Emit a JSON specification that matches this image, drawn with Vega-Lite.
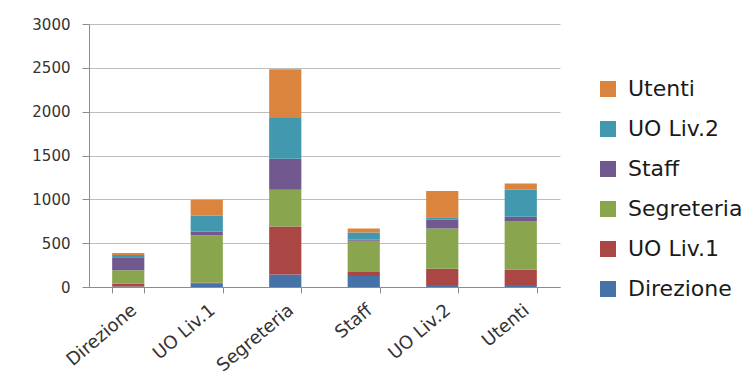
{
  "$schema": "https://vega.github.io/schema/vega-lite/v6.json",
  "width": 471,
  "height": 263,
  "autosize": {"type": "none"},
  "padding": {"left": 89, "top": 24, "right": 189, "bottom": 87},
  "background": "white",
  "config": {
    "font": "DejaVu Sans",
    "view": {"stroke": null},
    "axis": {"labelColor": "#333333", "domainColor": "#8c8c8c", "tickColor": "#8c8c8c"}
  },
  "data": {
    "values": [
      {"gruppo": "Direzione", "ruolo": "Direzione", "valore": 5},
      {"gruppo": "Direzione", "ruolo": "UO Liv.1", "valore": 35},
      {"gruppo": "Direzione", "ruolo": "Segreteria", "valore": 150},
      {"gruppo": "Direzione", "ruolo": "Staff", "valore": 148},
      {"gruppo": "Direzione", "ruolo": "UO Liv.2", "valore": 27},
      {"gruppo": "Direzione", "ruolo": "Utenti", "valore": 22},
      {"gruppo": "UO Liv.1", "ruolo": "Direzione", "valore": 38},
      {"gruppo": "UO Liv.1", "ruolo": "UO Liv.1", "valore": 12},
      {"gruppo": "UO Liv.1", "ruolo": "Segreteria", "valore": 539},
      {"gruppo": "UO Liv.1", "ruolo": "Staff", "valore": 45},
      {"gruppo": "UO Liv.1", "ruolo": "UO Liv.2", "valore": 179},
      {"gruppo": "UO Liv.1", "ruolo": "Utenti", "valore": 182},
      {"gruppo": "Segreteria", "ruolo": "Direzione", "valore": 144},
      {"gruppo": "Segreteria", "ruolo": "UO Liv.1", "valore": 547},
      {"gruppo": "Segreteria", "ruolo": "Segreteria", "valore": 418},
      {"gruppo": "Segreteria", "ruolo": "Staff", "valore": 353},
      {"gruppo": "Segreteria", "ruolo": "UO Liv.2", "valore": 467},
      {"gruppo": "Segreteria", "ruolo": "Utenti", "valore": 554},
      {"gruppo": "Staff", "ruolo": "Direzione", "valore": 125},
      {"gruppo": "Staff", "ruolo": "UO Liv.1", "valore": 46},
      {"gruppo": "Staff", "ruolo": "Segreteria", "valore": 357},
      {"gruppo": "Staff", "ruolo": "Staff", "valore": 15},
      {"gruppo": "Staff", "ruolo": "UO Liv.2", "valore": 80},
      {"gruppo": "Staff", "ruolo": "Utenti", "valore": 45},
      {"gruppo": "UO Liv.2", "ruolo": "Direzione", "valore": 23},
      {"gruppo": "UO Liv.2", "ruolo": "UO Liv.1", "valore": 186},
      {"gruppo": "UO Liv.2", "ruolo": "Segreteria", "valore": 459},
      {"gruppo": "UO Liv.2", "ruolo": "Staff", "valore": 99},
      {"gruppo": "UO Liv.2", "ruolo": "UO Liv.2", "valore": 30},
      {"gruppo": "UO Liv.2", "ruolo": "Utenti", "valore": 297},
      {"gruppo": "Utenti", "ruolo": "Direzione", "valore": 23},
      {"gruppo": "Utenti", "ruolo": "UO Liv.1", "valore": 174},
      {"gruppo": "Utenti", "ruolo": "Segreteria", "valore": 555},
      {"gruppo": "Utenti", "ruolo": "Staff", "valore": 49},
      {"gruppo": "Utenti", "ruolo": "UO Liv.2", "valore": 308},
      {"gruppo": "Utenti", "ruolo": "Utenti", "valore": 72}
    ]
  },
  "transform": [
    {"calculate": "indexof(['Direzione', 'UO Liv.1', 'Segreteria', 'Staff', 'UO Liv.2', 'Utenti'], datum.ruolo)", "as": "livello"}
  ],
  "mark": {"type": "bar"},
  "encoding": {
    "x": {
      "field": "gruppo",
      "type": "nominal",
      "sort": ["Direzione", "UO Liv.1", "Segreteria", "Staff", "UO Liv.2", "Utenti"],
      "scale": {"paddingInner": 0.59, "paddingOuter": 0.295},
      "axis": {
        "title": null,
        "labelAngle": -40,
        "labelFontSize": 18,
        "labelPadding": 8,
        "tickBand": "extent",
        "tickSize": 6,
        "grid": false
      }
    },
    "y": {
      "field": "valore",
      "type": "quantitative",
      "stack": "zero",
      "scale": {"domain": [0, 3000], "nice": false},
      "axis": {
        "title": null,
        "format": "d",
        "values": [0, 500, 1000, 1500, 2000, 2500, 3000],
        "labelFontSize": 15,
        "labelPadding": 12,
        "tickSize": 7,
        "gridColor": "#bdbdbd",
        "gridWidth": 1.2
      }
    },
    "color": {
      "field": "ruolo",
      "type": "nominal",
      "scale": {
        "domain": ["Direzione", "UO Liv.1", "Segreteria", "Staff", "UO Liv.2", "Utenti"],
        "range": ["#4572A7", "#AA4643", "#89A54E", "#71588F", "#4198AF", "#DB843D"]
      },
      "legend": {
        "title": null,
        "orient": "none",
        "legendX": 508,
        "legendY": 54,
        "values": ["Utenti", "UO Liv.2", "Staff", "Segreteria", "UO Liv.1", "Direzione"],
        "symbolType": "square",
        "symbolSize": 256,
        "symbolStrokeWidth": 0,
        "labelFontSize": 22,
        "labelColor": "#1a1a1a",
        "labelOffset": 9,
        "rowPadding": 18
      }
    },
    "order": {"field": "livello", "type": "quantitative", "sort": "ascending"}
  }
}
